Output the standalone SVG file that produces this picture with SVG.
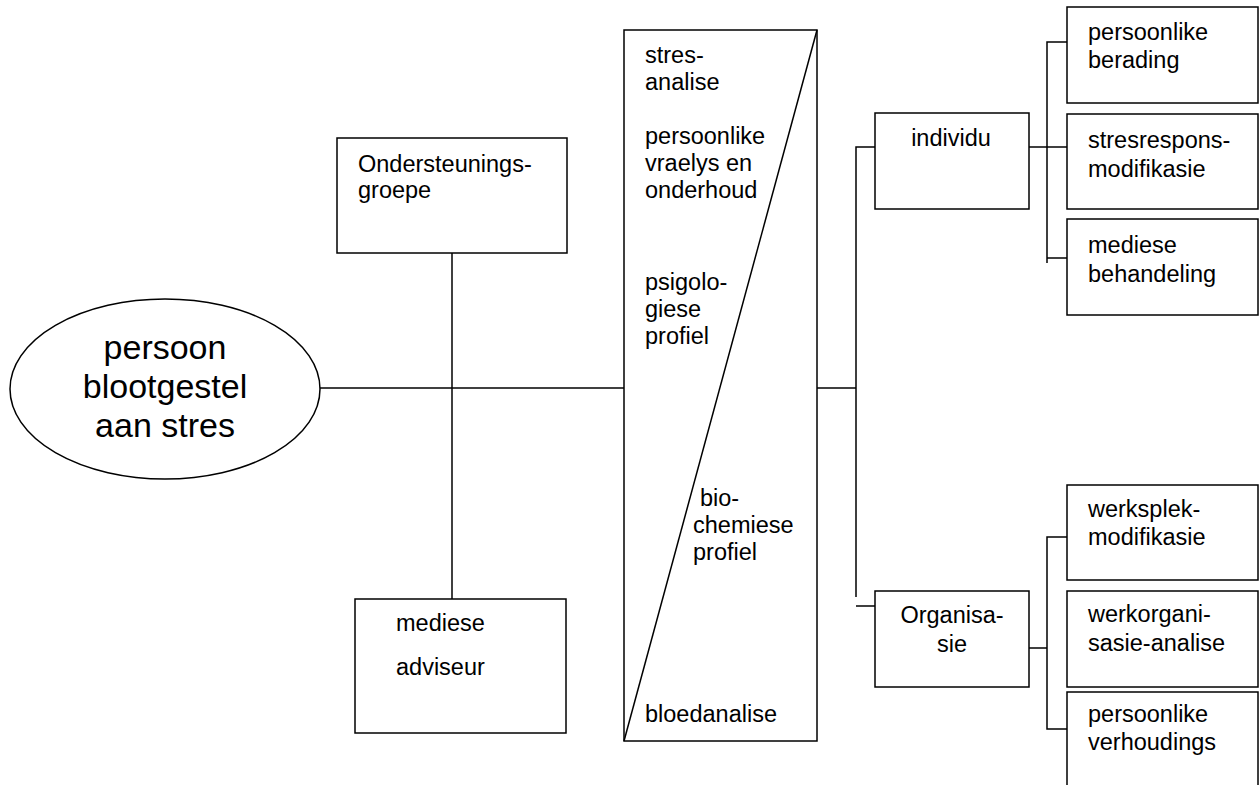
<svg xmlns="http://www.w3.org/2000/svg" width="1260" height="785" viewBox="0 0 1260 785">
<style>
.b{fill:#fff;stroke:#000;stroke-width:1.5}
.l{fill:none;stroke:#000;stroke-width:1.5}
text{font-family:"Liberation Sans",Arial,sans-serif;font-size:23.5px;fill:#000}
.big{font-size:34px}
.c{text-anchor:middle}
</style>
<rect width="1260" height="785" fill="#fff"/>
<g id="connectors">
<line class="l" x1="320" y1="388" x2="624" y2="388"/>
<line class="l" x1="452" y1="243" x2="452" y2="599"/>
<line class="l" x1="817" y1="388" x2="856" y2="388"/>
<polyline class="l" points="875,147 856,147 856,597"/>
<line class="l" x1="856" y1="606" x2="875" y2="606"/>
<line class="l" x1="1029" y1="147" x2="1067" y2="147"/>
<polyline class="l" points="1067,42 1047,42 1047,263"/>
<line class="l" x1="1047" y1="258" x2="1067" y2="258"/>
<line class="l" x1="1029" y1="648" x2="1047" y2="648"/>
<polyline class="l" points="1067,537 1047,537 1047,729 1067,729"/>
</g>
<g id="person">
<ellipse class="b" cx="165" cy="389" rx="155" ry="90"/>
<text class="big c" x="165" y="359">persoon</text>
<text class="big c" x="165" y="398">blootgestel</text>
<text class="big c" x="165" y="437">aan stres</text>
</g>
<g id="ondersteuningsgroepe">
<rect class="b" x="337" y="138" width="230" height="115"/>
<text x="358" y="172">Ondersteunings-</text>
<text x="358" y="198">groepe</text>
</g>
<g id="mediese-adviseur">
<rect class="b" x="355" y="599" width="211" height="134"/>
<text x="396" y="631">mediese</text>
<text x="396" y="675">adviseur</text>
</g>
<g id="analise">
<rect class="b" x="624" y="30" width="193" height="711"/>
<line class="l" x1="817" y1="30" x2="624" y2="741"/>
<text x="645" y="63">stres-</text>
<text x="645" y="90">analise</text>
<text x="645" y="144">persoonlike</text>
<text x="645" y="171">vraelys en</text>
<text x="645" y="198">onderhoud</text>
<text x="645" y="290">psigolo-</text>
<text x="645" y="317">giese</text>
<text x="645" y="344">profiel</text>
<text x="700" y="506">bio-</text>
<text x="693" y="533">chemiese</text>
<text x="693" y="560">profiel</text>
<text x="645" y="722">bloedanalise</text>
</g>
<g id="individu">
<rect class="b" x="875" y="113" width="154" height="96"/>
<text class="c" x="951" y="146">individu</text>
</g>
<g id="organisasie">
<rect class="b" x="875" y="591" width="154" height="96"/>
<text class="c" x="952" y="623">Organisa-</text>
<text class="c" x="952" y="652">sie</text>
</g>
<g id="persoonlike-berading">
<rect class="b" x="1067" y="7" width="191" height="96"/>
<text x="1088" y="40">persoonlike</text>
<text x="1088" y="68">berading</text>
</g>
<g id="stresrespons-modifikasie">
<rect class="b" x="1067" y="114" width="191" height="95"/>
<text x="1088" y="148">stresrespons-</text>
<text x="1088" y="177">modifikasie</text>
</g>
<g id="mediese-behandeling">
<rect class="b" x="1067" y="219" width="191" height="96"/>
<text x="1088" y="253">mediese</text>
<text x="1088" y="282">behandeling</text>
</g>
<g id="werksplek-modifikasie">
<rect class="b" x="1067" y="485" width="191" height="95"/>
<text x="1088" y="517">werksplek-</text>
<text x="1088" y="545">modifikasie</text>
</g>
<g id="werkorganisasie-analise">
<rect class="b" x="1067" y="591" width="191" height="96"/>
<text x="1088" y="622">werkorgani-</text>
<text x="1088" y="651">sasie-analise</text>
</g>
<g id="persoonlike-verhoudings">
<rect class="b" x="1067" y="692" width="191" height="100"/>
<text x="1088" y="722">persoonlike</text>
<text x="1088" y="750">verhoudings</text>
</g>
</svg>
